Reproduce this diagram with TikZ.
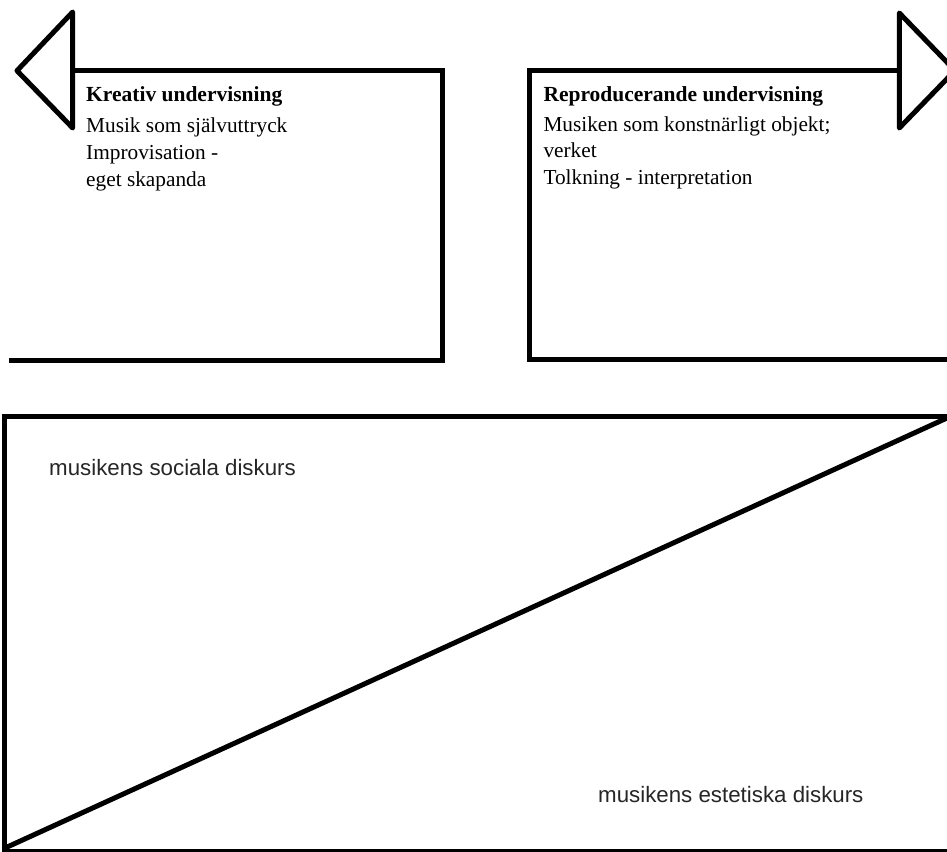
\documentclass[tikz,border=0pt]{standalone}
\usepackage{fontspec}
\setmainfont{Liberation Serif}
\newfontfamily\arialf{Liberation Sans}
\begin{document}
\begin{tikzpicture}[x=1pt,y=-1pt,
  heavy/.style={line width=5pt,draw=black},
  serifbold/.style={anchor=base west,inner sep=0pt,font=\fontsize{21.5}{26}\selectfont\bfseries},
  seriftext/.style={anchor=base west,inner sep=0pt,font=\fontsize{21.3}{26}\selectfont},
  sanstext/.style={anchor=base west,inner sep=0pt,font=\arialf\fontsize{22.3}{26}\selectfont,text=black!85}]
\useasboundingbox (0,0) rectangle (947,851);
\clip (0,0) rectangle (947,851);
% left box with left-pointing arrow
\draw[heavy,line join=miter] (72.7,70.7) -- (442.7,70.7) -- (442.7,360.7) -- (9,360.7);
\draw[heavy,line join=round] (72.7,12) -- (17,70.7) -- (72.7,128) -- cycle;
% right box with right-pointing arrow
\draw[heavy,line join=miter] (899.3,70.7) -- (529.3,70.7) -- (529.3,359.3) -- (952,359.3);
\draw[heavy,line join=round] (899.3,13) -- (955,70.5) -- (899.3,128) -- cycle;
% bottom box with diagonal
\draw[heavy,line join=miter] (955,416.7) -- (4.7,416.7) -- (4.7,851.5) -- (955,851.5);
\draw[heavy] (5,848) -- (947,418);
% texts left
\node[serifbold] (kt) at (86,101.7) {Kreativ undervisning};
\node[seriftext] (k1) at (86,132) {Musik som självuttryck};
\node[seriftext] (k2) at (86,159) {Improvisation -};
\node[seriftext] (k3) at (86,186) {eget skapanda};
% texts right
\node[serifbold] (rt) at (543.3,101.7) {Reproducerande undervisning};
\node[seriftext] (r1) at (543.3,131) {Musiken som konstnärligt objekt;};
\node[seriftext] (r2) at (543.3,157.5) {verket};
\node[seriftext] (r3) at (543.3,184) {Tolkning - interpretation};
% bottom texts
\node[sanstext] (soc) at (49,475) {musikens sociala diskurs};
\node[sanstext] (est) at (598,802) {musikens estetiska diskurs};
\end{tikzpicture}
\end{document}
